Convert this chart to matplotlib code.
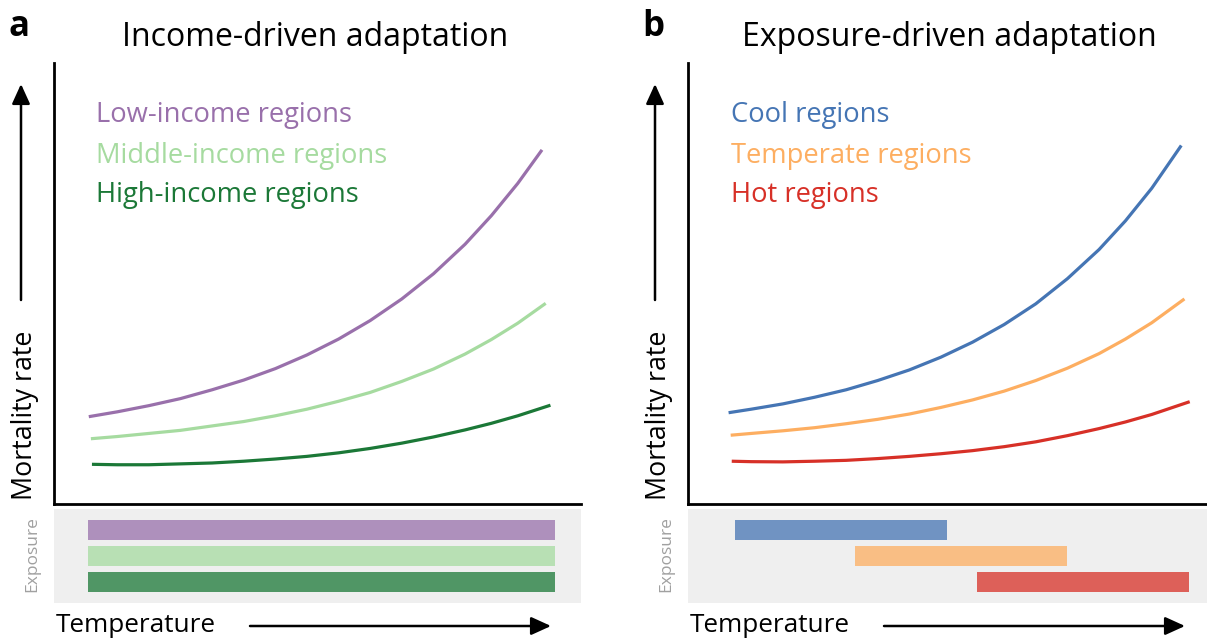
import matplotlib.pyplot as plt
from matplotlib.patches import FancyArrowPatch
import numpy as np

plt.rcParams['font.family'] = ['Open Sans', 'DejaVu Sans']

W, H = 1207, 644

# ---- panel a: income-driven ----
income_labels = ["Low-income regions", "Middle-income regions", "High-income regions"]
income_colors = ["#9970ab", "#a6dba0", "#1b7837"]

low_x = [0.66, 1.2, 1.8, 2.4, 3.0, 3.6, 4.2, 4.8, 5.4, 6.0, 6.6, 7.2, 7.8, 8.3, 8.8, 9.26]
low_y = [1.98, 2.09, 2.23, 2.39, 2.59, 2.81, 3.07, 3.38, 3.74, 4.16, 4.65, 5.22, 5.89, 6.54, 7.27, 8.03]
mid_x = [0.70, 1.2, 1.8, 2.4, 3.0, 3.6, 4.2, 4.8, 5.4, 6.0, 6.6, 7.2, 7.8, 8.3, 8.8, 9.33]
mid_y = [1.48, 1.53, 1.60, 1.67, 1.77, 1.87, 2.00, 2.15, 2.33, 2.53, 2.78, 3.06, 3.40, 3.73, 4.10, 4.55]
high_x = [0.72, 1.2, 1.8, 2.4, 3.0, 3.6, 4.2, 4.8, 5.4, 6.0, 6.6, 7.2, 7.8, 8.3, 8.8, 9.42]
high_y = [0.90, 0.89, 0.89, 0.91, 0.93, 0.97, 1.02, 1.08, 1.16, 1.26, 1.38, 1.52, 1.68, 1.83, 2.00, 2.24]

income_exp_start = [0.645, 0.645, 0.645]
income_exp_end = [9.51, 9.51, 9.51]

# ---- panel b: exposure-driven ----
climate_labels = ["Cool regions", "Temperate regions", "Hot regions"]
climate_colors = ["#4575b4", "#fdae61", "#d73027"]

cool_x = [0.77, 1.2, 1.8, 2.4, 3.0, 3.6, 4.2, 4.8, 5.4, 6.0, 6.6, 7.2, 7.8, 8.3, 8.8, 9.36]
cool_y = [2.07, 2.15, 2.27, 2.42, 2.59, 2.80, 3.04, 3.33, 3.67, 4.07, 4.54, 5.11, 5.77, 6.42, 7.16, 8.13]
temp_x = [0.81, 1.2, 1.8, 2.4, 3.0, 3.6, 4.2, 4.8, 5.4, 6.0, 6.6, 7.2, 7.8, 8.3, 8.8, 9.42]
temp_y = [1.56, 1.60, 1.66, 1.73, 1.82, 1.92, 2.04, 2.19, 2.36, 2.56, 2.80, 3.08, 3.41, 3.74, 4.11, 4.65]
hot_x = [0.83, 1.2, 1.8, 2.4, 3.0, 3.6, 4.2, 4.8, 5.4, 6.0, 6.6, 7.2, 7.8, 8.3, 8.8, 9.52]
hot_y = [0.97, 0.96, 0.955, 0.97, 0.99, 1.03, 1.08, 1.14, 1.21, 1.30, 1.41, 1.55, 1.71, 1.86, 2.03, 2.32]

climate_exp_start = [0.89, 3.17, 5.48]
climate_exp_end = [4.91, 7.19, 9.51]


def fx(x):
    return x / W


def fy(y):
    return 1 - y / H


fig = plt.figure(figsize=(W / 100, H / 100), dpi=100)


def panel(left, letter, title, labels, colors, curves, starts, ends, label_x):
    ax = fig.add_axes([fx(left), fy(504), 527 / W, 441 / H])
    for (xs, ys), c in zip(curves, colors):
        ax.plot(xs, ys, color=c, lw=2.3, solid_joinstyle='round',
                solid_capstyle='butt')
    ax.set_xlim(0, 10)
    ax.set_ylim(0, 10)
    ax.set_xticks([])
    ax.set_yticks([])
    for s in ['top', 'right']:
        ax.spines[s].set_visible(False)
    for s in ['left', 'bottom']:
        ax.spines[s].set_linewidth(2.0)
    for i, (lab, c) in enumerate(zip(labels, colors)):
        fig.text(fx(label_x), fy([115, 156, 195][i]), lab, color=c,
                 fontsize=19.7, ha='left', va='center')

    # exposure strip under the axis
    ex = fig.add_axes([fx(left), fy(603), 527 / W, 94 / H])
    ex.set_facecolor('#efefef')
    rows = np.arange(len(labels))
    ex.barh(rows, np.array(ends) - np.array(starts), left=starts, height=0.77,
            color=colors, alpha=0.75)
    ex.set_xlim(0, 10)
    ex.set_ylim(2.81, -0.81)
    ex.set_xticks([])
    ex.set_yticks([])
    for s in ex.spines.values():
        s.set_visible(False)
    fig.text(fx(left - 22), fy(554), "Exposure", rotation=90, color='#a0a0a0',
             fontsize=12.5, ha='center', va='center')

    # titles and axis labels
    fig.text(fx(left - 46), fy(27), letter, fontsize=25, fontweight='bold',
             ha='left', va='center')
    fig.text(fx(left + 261), fy(38), title, fontsize=23, ha='center', va='center')
    fig.text(fx(left - 29), fy(415), "Mortality rate", rotation=90,
             fontsize=19.3, ha='center', va='center')
    fig.text(fx(left + 2), fy(626), "Temperature", fontsize=18.8,
             ha='left', va='center')
    arrow = dict(arrowstyle='-|>,head_length=0.55,head_width=0.25', lw=1.8,
                 color='black', shrinkA=0, shrinkB=0, mutation_scale=22)
    fig.add_artist(FancyArrowPatch((fx(left - 33), fy(300)), (fx(left - 33), fy(84)),
                                   transform=fig.transFigure, **arrow))
    fig.add_artist(FancyArrowPatch((fx(left + 196), fy(626)), (fx(left + 497), fy(626)),
                                   transform=fig.transFigure, **arrow))


panel(54, "a", "Income-driven adaptation", income_labels, income_colors,
      [(low_x, low_y), (mid_x, mid_y), (high_x, high_y)],
      income_exp_start, income_exp_end, 96)
panel(688, "b", "Exposure-driven adaptation", climate_labels, climate_colors,
      [(cool_x, cool_y), (temp_x, temp_y), (hot_x, hot_y)],
      climate_exp_start, climate_exp_end, 731)

fig.savefig("out.png", dpi=100)
